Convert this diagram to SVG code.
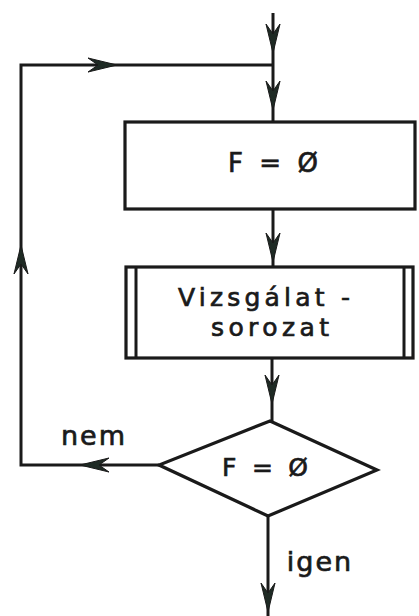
<svg xmlns="http://www.w3.org/2000/svg" width="419" height="616" viewBox="0 0 419 616">
<style>
.ln{fill:none;stroke:#1a1a1a;stroke-width:3;stroke-linejoin:miter}
.bx{fill:#fff;stroke:#1a1a1a;stroke-width:3.2}
.ah{fill:#1e2a24;stroke:#1a1a1a;stroke-width:1}
.t{font-family:"DejaVu Sans",sans-serif;fill:#1a1a1a;stroke:#1a1a1a;stroke-width:0.7;text-anchor:middle}
</style>
<defs>
<path id="ah" class="ah" d="M0,0 L-7,-29 L0,-19 L7,-29 Z"/>
</defs>
<rect width="419" height="616" fill="#fff"/>
<g id="connectors">
<path class="ln" d="M273,13 V122"/>
<path class="ln" d="M273,65 H21 V465 H159"/>
<path class="ln" d="M273,209 V267"/>
<path class="ln" d="M272,358 V421"/>
<path class="ln" d="M268,516 V616"/>
<use href="#ah" transform="translate(273,53)"/>
<use href="#ah" transform="translate(273,110)"/>
<use href="#ah" transform="translate(117,65) rotate(-90)"/>
<use href="#ah" transform="translate(273,262)"/>
<use href="#ah" transform="translate(272,404)"/>
<use href="#ah" transform="translate(80,465) rotate(90)"/>
<use href="#ah" transform="translate(21,245) rotate(180)"/>
<use href="#ah" transform="translate(268,612)"/>
</g>
<g id="n1">
<rect class="bx" x="125" y="122" width="290" height="87"/>
<text class="t" x="273" y="172" font-size="26" textLength="90" lengthAdjust="spacing">F = Ø</text>
</g>
<g id="n2">
<rect class="bx" x="126" y="267" width="287" height="91"/>
<path class="ln" d="M136,267 V358 M404,267 V358"/>
<text class="t" x="264" y="306" font-size="25" textLength="172" lengthAdjust="spacing">Vizsgálat -</text>
<text class="t" x="270" y="336" font-size="25" textLength="118" lengthAdjust="spacing">sorozat</text>
</g>
<g id="n3">
<path class="bx" d="M270,421 L377,470 L268,516 L159,465 Z"/>
<text class="t" x="265" y="476" font-size="25" textLength="86" lengthAdjust="spacing">F = Ø</text>
</g>
<g id="labels">
<text class="t" x="94" y="445" font-size="27" letter-spacing="2">nem</text>
<text class="t" x="320" y="571" font-size="27" letter-spacing="2">igen</text>
</g>
</svg>
